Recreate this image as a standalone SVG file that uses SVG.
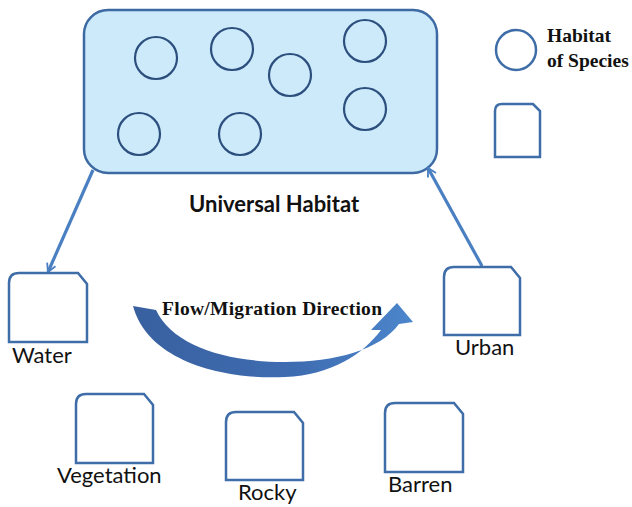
<svg xmlns="http://www.w3.org/2000/svg" width="632" height="507" viewBox="0 0 632 507">
<defs>
<style>
.box{fill:#fff;stroke:#3f6da8;stroke-width:2.5}
.hab{fill:none;stroke:#2c4f7e;stroke-width:2.2}
.lbl{font-family:Lato,"Liberation Sans",sans-serif;font-size:22px;fill:#111}
.ser{font-family:"Liberation Serif",serif;font-weight:bold;fill:#111}
.conn{fill:none;stroke:#4a7fc1;stroke-width:3.2}
</style>
<linearGradient id="flow" x1="0" y1="0" x2="1" y2="0">
<stop offset="0" stop-color="#38609f"/>
<stop offset="0.6" stop-color="#3f6db2"/>
<stop offset="1" stop-color="#4c86cc"/>
</linearGradient>
<marker id="open" viewBox="0 0 12 12" refX="10" refY="6" markerWidth="11" markerHeight="11" orient="auto" markerUnits="userSpaceOnUse">
<path d="M1,1 L10,6 L1,11" fill="none" stroke="#4a7fc1" stroke-width="2"/>
</marker>
</defs>
<rect width="632" height="507" fill="#fff"/>

<g id="universal-habitat">
<rect x="84" y="10" width="353" height="163" rx="24" ry="24" fill="#cdeafb" stroke="#3d6aa3" stroke-width="2.5"/>
<circle class="hab" cx="156" cy="58" r="21"/>
<circle class="hab" cx="232" cy="49" r="21"/>
<circle class="hab" cx="290" cy="75" r="21"/>
<circle class="hab" cx="365" cy="41" r="21"/>
<circle class="hab" cx="365" cy="109" r="21"/>
<circle class="hab" cx="139" cy="134" r="21"/>
<circle class="hab" cx="240" cy="134" r="21"/>
<text x="189" y="212" font-family="Lato,'Liberation Sans',sans-serif" font-weight="bold" font-size="22" fill="#111">Universal Habitat</text>
</g>

<g id="legend">
<circle cx="516" cy="50" r="20" fill="none" stroke="#3f6da8" stroke-width="2.5"/>
<text class="ser" x="547" y="42" font-size="19.5">Habitat</text>
<text class="ser" x="547" y="67" font-size="19.5">of Species</text>
<path class="box" d="M495,157 L495,111 Q495,104 502,104 L533,104 L540,111 L540,157 Z"/>
</g>

<g id="connectors">
<path class="conn" d="M93,170 L48,272" marker-end="url(#open)"/>
<path class="conn" d="M482,266 L428,168" marker-end="url(#open)"/>
</g>

<g id="water">
<path class="box" d="M9,342 L9,283 Q9,273 19,273 L78,273 L87,284 L87,342 Z"/>
<text class="lbl" x="12" y="363">Water</text>
</g>

<g id="urban">
<path class="box" d="M444,335 L444,277 Q444,267 454,267 L511,267 L520,278 L520,335 Z"/>
<text class="lbl" x="455" y="355">Urban</text>
</g>

<g id="vegetation">
<path class="box" d="M76,463 L76,404 Q76,394 86,394 L144,394 L153,405 L153,463 Z"/>
<text class="lbl" x="57" y="483">Vegetation</text>
</g>

<g id="rocky">
<path class="box" d="M226,480 L226,422 Q226,412 236,412 L294,412 L303,423 L303,480 Z"/>
<text class="lbl" x="238" y="500">Rocky</text>
</g>

<g id="barren">
<path class="box" d="M385,472 L385,413 Q385,403 395,403 L454,403 L463,414 L463,472 Z"/>
<text class="lbl" x="388" y="492">Barren</text>
</g>

<g id="flow-direction">
<path fill="url(#flow)" d="M133,306 C148,362 225,380 285,377 C332,375 363,354 381,330 L371,330 L397,303 L413,322 L399,324 C380,350 335,362 285,362 C225,362 172,345 156,310 Z"/>
<text class="ser" x="162" y="315" font-size="19.5" textLength="220">Flow/Migration Direction</text>
</g>
</svg>
